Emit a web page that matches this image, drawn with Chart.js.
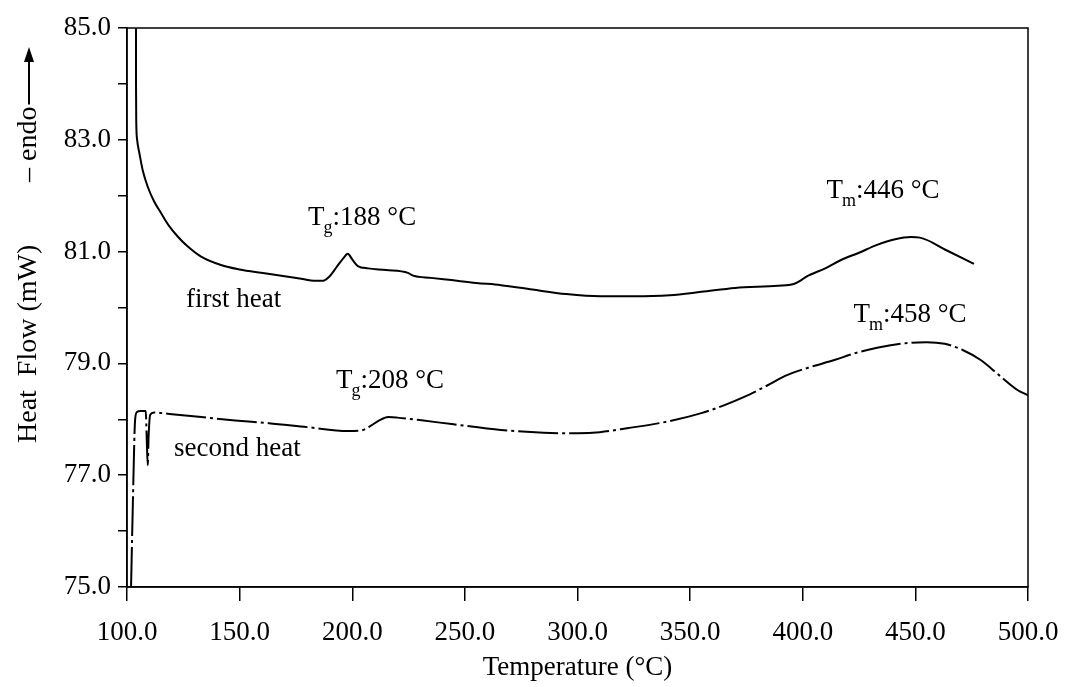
<!DOCTYPE html>
<html>
<head>
<meta charset="utf-8">
<script src="https://cdn.jsdelivr.net/npm/chart.js@4/dist/chart.umd.min.js"></script>
<style>
  html, body { margin: 0; padding: 0; background: #ffffff; }
  #wrap { width: 1067px; height: 687px; position: relative; }
</style>
</head>
<body>
<div id="wrap"><canvas id="dsc"></canvas></div>
<script>
// first heat (solid line)
const firstHeatTemp = [104.0, 104.0, 104.1, 104.5, 105.5, 107, 109.2, 112, 115.1, 118.5, 122.5, 127, 132.9, 141.7, 150, 159.5, 170, 178, 183,
  187, 190, 193, 196, 198, 200, 202.5, 207, 215, 224.7, 227, 235, 244, 255, 266, 280, 295, 310, 325, 341, 355, 370,
  389, 396, 399, 401.5, 410, 417, 425, 433, 441, 448, 452, 464, 476];
const firstHeatFlow = [85.0, 84.0, 83.35, 83.0, 82.76, 82.45, 82.16, 81.90, 81.69, 81.47, 81.27, 81.09, 80.91, 80.76, 80.68, 80.62, 80.56, 80.51, 80.48,
  80.48, 80.56, 80.72, 80.88, 80.96, 80.86, 80.74, 80.70, 80.67, 80.62, 80.57, 80.53, 80.49, 80.44, 80.40, 80.32, 80.24, 80.20, 80.20, 80.22, 80.28, 80.35,
  80.39, 80.42, 80.48, 80.55, 80.70, 80.85, 80.98, 81.12, 81.22, 81.26, 81.25, 81.02, 80.78];

// second heat (dash-dot line)
const secondHeatTemp = [101.8, 102.6, 103.6, 104.4, 106, 108.3, 108.8, 109.2, 109.6, 110.3, 112, 120, 133, 148, 163, 180, 198,
  204, 208, 212, 216, 220, 229, 245, 266, 285, 300, 310, 322, 340, 355, 365, 374, 384, 393, 403, 414, 423, 433, 448,
  455, 463, 471, 479, 488, 495.5, 500];
const secondHeatFlow = [75.0, 76.5, 77.99, 78.13, 78.15, 78.15, 77.6, 77.18, 77.7, 78.08, 78.12, 78.09, 78.04, 77.98, 77.93, 77.86, 77.79,
  77.80, 77.88, 77.98, 78.04, 78.03, 77.99, 77.91, 77.81, 77.76, 77.75, 77.77, 77.84, 77.96, 78.11, 78.25, 78.40, 78.60, 78.79, 78.93, 79.06, 79.18, 79.28, 79.37,
  79.38, 79.35, 79.24, 79.06, 78.76, 78.52, 78.43];

const xTicks = [100, 150, 200, 250, 300, 350, 400, 450, 500];
const yLabels = [75, 77, 79, 81, 83, 85];

// labels placed on the plot (temperature, heat flow at baseline)
const notes = [
  { x: 180.4, y: 81.48, main: 'T', sub: 'g', rest: ':188 °C' },
  { x: 126.2, y: 80.01, main: 'first heat', sub: '', rest: '' },
  { x: 192.8, y: 78.56, main: 'T', sub: 'g', rest: ':208 °C' },
  { x: 120.9, y: 77.34, main: 'second heat', sub: '', rest: '' },
  { x: 410.5, y: 81.96, main: 'T', sub: 'm', rest: ':446 °C' },
  { x: 422.5, y: 79.74, main: 'T', sub: 'm', rest: ':458 °C' }
];

const FONT = '"Liberation Serif", "Times New Roman", serif';

const toPoints = (xs, ys) => xs.map((t, i) => ({ x: t, y: ys[i] }));

// frame, axis titles and annotations
const decorPlugin = {
  id: 'decor',
  afterDraw(chart) {
    const ctx = chart.ctx;
    const a = chart.chartArea;
    const sx = chart.scales.x, sy = chart.scales.y;
    ctx.save();
    ctx.strokeStyle = '#000';
    ctx.lineWidth = 1.5;
    ctx.strokeRect(a.left, a.top, a.right - a.left, a.bottom - a.top);

    ctx.fillStyle = '#000';
    ctx.textBaseline = 'alphabetic';
    ctx.textAlign = 'left';
    notes.forEach(n => {
      let px = sx.getPixelForValue(n.x);
      const py = sy.getPixelForValue(n.y);
      ctx.font = '27px ' + FONT;
      ctx.fillText(n.main, px, py);
      px += ctx.measureText(n.main).width;
      if (n.sub) {
        ctx.font = '18px ' + FONT;
        ctx.fillText(n.sub, px - 1, py + 8);
        px += ctx.measureText(n.sub).width - 1;
      }
      if (n.rest) {
        ctx.font = '27px ' + FONT;
        ctx.fillText(n.rest, px, py);
      }
    });

    // x title
    ctx.font = '27px ' + FONT;
    ctx.textAlign = 'center';
    ctx.textBaseline = 'middle';
    ctx.fillText('Temperature (°C)', (a.left + a.right) / 2, 668);

    // y title, rotated
    ctx.font = '28px ' + FONT;
    ctx.translate(29, 0);
    ctx.rotate(-Math.PI / 2);
    ctx.textAlign = 'left';
    ctx.textBaseline = 'middle';
    ctx.fillText('Heat  Flow (mW)', -443, 0);
    const w = ctx.measureText('– endo').width;
    ctx.fillText('– endo', -182, 0);
    const s = -182 + w + 2;
    ctx.lineWidth = 2;
    ctx.beginPath();
    ctx.moveTo(s, 0);
    ctx.lineTo(-60, 0);
    ctx.stroke();
    ctx.beginPath();
    ctx.moveTo(-47, 0);
    ctx.lineTo(-62, -5);
    ctx.lineTo(-62, 5);
    ctx.closePath();
    ctx.fill();
    ctx.restore();
  }
};

new Chart(document.getElementById('dsc'), {
  type: 'line',
  data: {
    datasets: [
      {
        label: 'first heat',
        data: toPoints(firstHeatTemp, firstHeatFlow),
        borderColor: '#000',
        borderWidth: 2,
        pointRadius: 0,
        cubicInterpolationMode: 'monotone',
        fill: false
      },
      {
        label: 'second heat',
        data: toPoints(secondHeatTemp, secondHeatFlow),
        borderColor: '#000',
        borderWidth: 2,
        borderDash: [40, 4, 3, 4],
        pointRadius: 0,
        cubicInterpolationMode: 'monotone',
        fill: false
      }
    ]
  },
  options: {
    responsive: true,
    maintainAspectRatio: false,
    animation: false,
    devicePixelRatio: 1,
    layout: { padding: { top: 28, right: 39, left: 0, bottom: 0 } },
    plugins: {
      legend: { display: false },
      tooltip: { enabled: false }
    },
    scales: {
      x: {
        type: 'linear',
        min: 100,
        max: 500,
        afterFit: s => { s.height = 100; s.paddingLeft = 0; s.paddingRight = 0; },
        afterBuildTicks: s => { s.ticks = xTicks.map(v => ({ value: v })); },
        grid: { drawOnChartArea: false, drawTicks: true, tickLength: 14, color: '#000', lineWidth: 1.5 },
        border: { display: true, color: '#000', width: 1.5 },
        ticks: {
          color: '#000',
          padding: 16,
          maxRotation: 0,
          font: { family: FONT, size: 27 },
          callback: v => Number(v).toFixed(1)
        }
      },
      y: {
        min: 75,
        max: 85,
        afterFit: s => { s.width = 127; s.paddingTop = 0; s.paddingBottom = 0; },
        grid: { drawOnChartArea: false, drawTicks: true, tickLength: 9, color: '#000', lineWidth: 1.5 },
        border: { display: true, color: '#000', width: 1.5 },
        ticks: {
          stepSize: 1,
          color: '#000',
          padding: 7,
          font: { family: FONT, size: 27 },
          callback: v => yLabels.includes(v) ? Number(v).toFixed(1) : ''
        }
      }
    }
  },
  plugins: [decorPlugin]
});
</script>
</body>
</html>
